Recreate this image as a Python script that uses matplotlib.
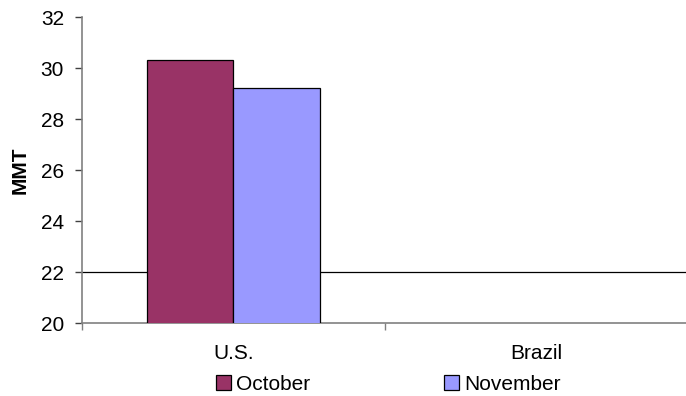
import numpy as np
from matplotlib import pyplot as plt
from matplotlib.patches import Patch

plt.rcParams["font.family"] = ["Liberation Sans", "DejaVu Sans"]

countries = ["U.S.", "Brazil"]
october = [30.31, np.nan]
november = [29.24, np.nan]
series_names = ["October", "November"]
series_colors = ["#993366", "#9999FF"]

BARWIDTH = 0.285

fig = plt.figure(figsize=(6.86, 3.96), dpi=100)
ax = fig.add_axes([0.1195, 0.1836, 0.8834, 0.7727])

x = np.arange(len(countries))
ax.bar(x - BARWIDTH / 2, october, BARWIDTH, color=series_colors[0],
       edgecolor="black", linewidth=0.9, zorder=3)
ax.bar(x + BARWIDTH / 2, november, BARWIDTH, color=series_colors[1],
       edgecolor="black", linewidth=0.9, zorder=3)

# single reference line at 22
ax.axhline(22, color="black", linewidth=0.9, zorder=1)

ax.set_ylim(20, 32)
ax.set_yticks(np.arange(20, 33, 2))
ax.set_xlim(-0.5, 1.5)

# category labels centred, tick marks on category boundaries
ax.set_xticks(x)
ax.set_xticklabels(countries)
ax.set_xticks([-0.5, 0.5, 1.5], minor=True)
ax.tick_params(axis="x", which="major", length=0, pad=15, labelsize=15)
ax.tick_params(axis="x", which="minor", length=5, width=1, color="#808080",
               direction="out")
ax.tick_params(axis="y", length=5, width=1, color="#404040", pad=8,
               labelsize=15)

for side in ["top", "right"]:
    ax.spines[side].set_visible(False)
ax.spines["left"].set_color("#808080")
ax.spines["bottom"].set_color("#808080")
ax.spines["left"].set_linewidth(1.2)
ax.spines["bottom"].set_linewidth(1.2)

ax.set_ylabel("MMT", fontweight="bold", fontsize=15, labelpad=8)

handles = [Patch(facecolor=c, edgecolor="black", linewidth=0.9)
           for c in series_colors]
fig.legend(handles, series_names, loc="center", bbox_to_anchor=(0.566, 0.03),
           ncol=2, frameon=False, fontsize=15, handlelength=0.72,
           handleheight=0.72, handletextpad=0.24, columnspacing=6.4,
           borderpad=0, borderaxespad=0)

fig.savefig("out.png", dpi=100)
